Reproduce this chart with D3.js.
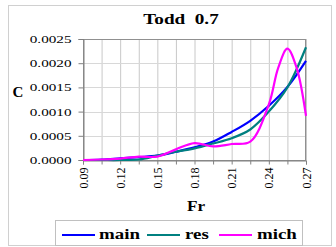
<!DOCTYPE html>
<html><head><meta charset="utf-8">
<script src="https://cdn.jsdelivr.net/npm/d3@7"></script>
<style>body{margin:0;background:#fff}svg{display:block}text{font-family:"Liberation Serif","Times New Roman",serif}</style>
</head><body><svg id="c" width="336" height="247"></svg>
<script>
const xVals = [0.09,0.105,0.12,0.135,0.15,0.165,0.18,0.195,0.21,0.225,0.24,0.255,0.27];
const mainVals = [0,0.00001,0.000035,0.00006,0.00009,0.00017,0.00026,0.00038,0.00058,0.00081,0.00112,0.00151,0.00205];
const resVals = [0,0,0,0.00001,0.00009,0.00017,0.00024,0.00034,0.00045,0.00063,0.00100,0.00150,0.00233];
const michX = [0.09,0.105,0.12,0.135,0.15,0.165,0.18,0.195,0.21,0.225,0.24,0.2475,0.255,0.2625,0.27];
const michVals = [0,0.00001,0.00003,0.00007,0.00007,0.00022,0.00035,0.00028,0.00033,0.00038,0.00115,0.0019,0.0023,0.0019,0.00091];
const xTicks = [0.09,0.12,0.15,0.18,0.21,0.24,0.27];
const yTicks = [0,0.0005,0.001,0.0015,0.002,0.0025];
const seriesNames = ["main","res","mich"];
const colors = ["#0000ff","#008080","#ff00ff"];

const svg = d3.select("#c");
const x = d3.scaleLinear().domain([0.09,0.27]).range([83,306]);
const y = d3.scaleLinear().domain([0,0.0025]).range([160,39]);

// outer border
svg.append("rect").attr("x",8.5).attr("y",5.5).attr("width",323).attr("height",240)
  .attr("fill","#fff").attr("stroke","#d0d0d0");

// grid
const g = svg.append("g");
g.selectAll(".vg").data(d3.range(0.09,0.2701,0.015)).join("line")
  .attr("x1",d=>x(d)+0.5).attr("x2",d=>x(d)+0.5).attr("y1",39).attr("y2",160)
  .attr("stroke","#c8c8c8");
g.selectAll(".hg").data(yTicks).join("line")
  .attr("x1",83).attr("x2",306).attr("y1",d=>Math.round(y(d))+0.5).attr("y2",d=>Math.round(y(d))+0.5)
  .attr("stroke","#d8d8d8");
svg.append("rect").attr("x",83.5).attr("y",39.5).attr("width",222).attr("height",121)
  .attr("fill","none").attr("stroke","#909090");

// axes
const yAxis = d3.axisLeft(y).tickValues(yTicks).tickSize(5).tickFormat(d3.format(".4f"));
const ya = svg.append("g").attr("transform","translate(83.5,0)").call(yAxis);
ya.select(".domain").attr("stroke","#808080");
ya.selectAll(".tick line").attr("stroke","#808080");
ya.selectAll(".tick text").attr("font-size",11).attr("fill","#000")
  .attr("x",0).attr("transform","translate(-12,0) scale(1.38,1)");

const xAxis = d3.axisBottom(x).tickValues(d3.range(0.09,0.2701,0.015)).tickSize(4)
  .tickFormat(d=>xTicks.some(t=>Math.abs(t-d)<1e-6)?d3.format(".2f")(d):"");
const xa = svg.append("g").attr("transform","translate(0,160.5)").call(xAxis);
xa.select(".domain").attr("stroke","#808080");
xa.selectAll(".tick line").attr("stroke","#808080");
xa.selectAll(".tick text").attr("font-size",11.5).attr("fill","#000")
  .attr("text-anchor","end").attr("dy",0).attr("y",0)
  .attr("transform","translate(4,7) rotate(-90) scale(1.05,1)");

// lines
const line = d3.line().x(d=>x(d[0])).y(d=>y(d[1])).curve(d3.curveCatmullRom.alpha(0.5));
const data = [
  xVals.map((v,i)=>[v,mainVals[i]]),
  xVals.map((v,i)=>[v,resVals[i]]),
  michX.map((v,i)=>[v,michVals[i]])
];
data.forEach((d,i)=>{
  svg.append("path").datum(d).attr("d",line).attr("fill","none")
    .attr("stroke",colors[i]).attr("stroke-width",2.2);
});

// title & labels
svg.append("text").text("Todd  0.7").attr("font-weight","bold").attr("font-size",14)
  .attr("text-anchor","middle").attr("transform","translate(181,24) scale(1.37,1)")
  .style("white-space","pre");
svg.append("text").text("C").attr("font-weight","bold").attr("font-size",15)
  .attr("text-anchor","middle").attr("transform","translate(18,97)");
svg.append("text").text("Fr").attr("font-weight","bold").attr("font-size",15)
  .attr("text-anchor","middle").attr("transform","translate(196,211) scale(1.15,1)");

// legend
svg.append("rect").attr("x",55.5).attr("y",220.5).attr("width",247).attr("height",25)
  .attr("fill","#fff").attr("stroke","#c0c0c0");
const legX = [62,147,219];
const textX = [99,185,257];
seriesNames.forEach((n,i)=>{
  svg.append("line").attr("x1",legX[i]).attr("x2",legX[i]+33).attr("y1",235).attr("y2",235)
    .attr("stroke",colors[i]).attr("stroke-width",2.2);
  svg.append("text").text(n).attr("font-weight","bold").attr("font-size",14)
    .attr("transform",`translate(${textX[i]},239) scale(1.35,1)`);
});
</script></body></html>
